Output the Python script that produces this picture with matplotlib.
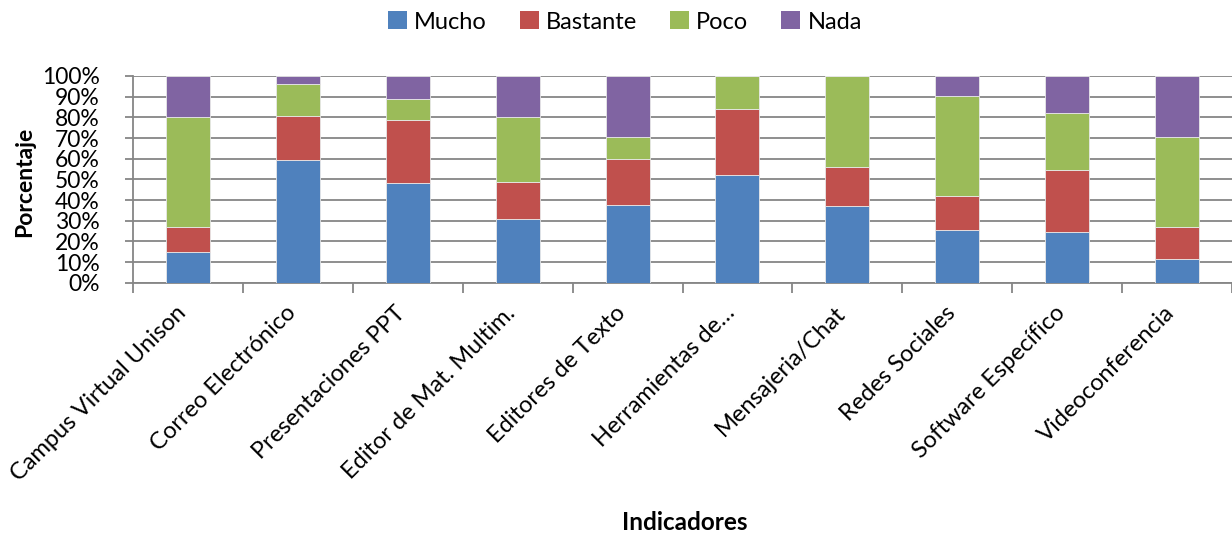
import matplotlib
matplotlib.use("Agg")
import matplotlib.pyplot as plt
import numpy as np
from matplotlib.patches import Patch

plt.rcParams['font.family'] = ['Lato', 'DejaVu Sans']

categorias = [
    "Campus Virtual Unison", "Correo Electrónico", "Presentaciones PPT",
    "Editor de Mat. Multim.", "Editores de Texto", "Herramientas de…",
    "Mensajeria/Chat", "Redes Sociales", "Software Específico",
    "Videoconferencia",
]
mucho = [15.0, 59.2, 48.4, 31.0, 37.5, 52.0, 37.1, 25.3, 24.4, 11.3]
bastante = [12.1, 21.6, 30.3, 17.9, 22.5, 31.9, 18.7, 16.8, 30.1, 15.8]
poco = [52.9, 15.2, 10.3, 31.1, 10.5, 16.1, 44.2, 48.2, 27.4, 43.4]
nada = [20.0, 4.0, 11.0, 20.0, 29.5, 0.0, 0.0, 9.7, 18.1, 29.5]

series = ["Mucho", "Bastante", "Poco", "Nada"]
colores = ["#4F81BD", "#C0504D", "#9BBB59", "#8064A2"]

fig = plt.figure(figsize=(12.32, 5.33), dpi=100)
ax = fig.add_axes([133 / 1232, (533 - 282.7) / 533, 1 - 133 / 1232, (282.7 - 76) / 533])

x = np.arange(len(categorias))
base = np.zeros(len(categorias))
for nombre, vals, col in zip(series, [mucho, bastante, poco, nada], colores):
    vals = np.array(vals)
    ax.bar(x, vals, width=0.4, bottom=base, color=col, edgecolor="#e8e8e8",
           linewidth=0.6, zorder=3, label=nombre)
    base += vals

ax.set_xlim(-0.5, -0.5 + (1232 - 133) / 110.5)
ax.set_ylim(0, 100)
ax.set_yticks(np.arange(0, 101, 10))
ax.set_yticklabels([f"{v}%" for v in range(0, 101, 10)], fontsize=16.5)
ax.yaxis.grid(True, color="#868686", linewidth=1.3, zorder=0)
ax.set_axisbelow(True)

for s in ["top", "right"]:
    ax.spines[s].set_visible(False)
for s in ["left", "bottom"]:
    ax.spines[s].set_color("#868686")
    ax.spines[s].set_linewidth(1.3)

ax.set_xticks(np.arange(-0.5, len(categorias), 1.0), minor=False)
ax.set_xticklabels([])
ax.tick_params(axis="x", length=7, width=1.3, color="#868686", direction="out")
ax.tick_params(axis="y", length=6, width=1.3, color="#868686", direction="out", pad=18)

for i, lab in enumerate(categorias):
    ax.text(i - 0.05, -13, lab, rotation=45, rotation_mode="anchor",
            ha="right", va="center", fontsize=17, transform=ax.transData,
            clip_on=False)

fig.text(25 / 1232, 1 - 182 / 533, "Porcentaje", rotation=90, fontsize=16.5,
         fontweight="bold", ha="center", va="center")
fig.text(685 / 1232, 1 - 523 / 533, "Indicadores", fontsize=17.5,
         fontweight="bold", ha="center", va="center")

handles = [Patch(facecolor=c, edgecolor="none") for c in colores]
fig.legend(handles, series, loc="center", bbox_to_anchor=(625 / 1232, 1 - 22 / 533),
           ncol=4, frameon=False, fontsize=17, handlelength=0.8, handleheight=0.8,
           handletextpad=0.3, columnspacing=1.4)

fig.savefig("out.png", dpi=100)
